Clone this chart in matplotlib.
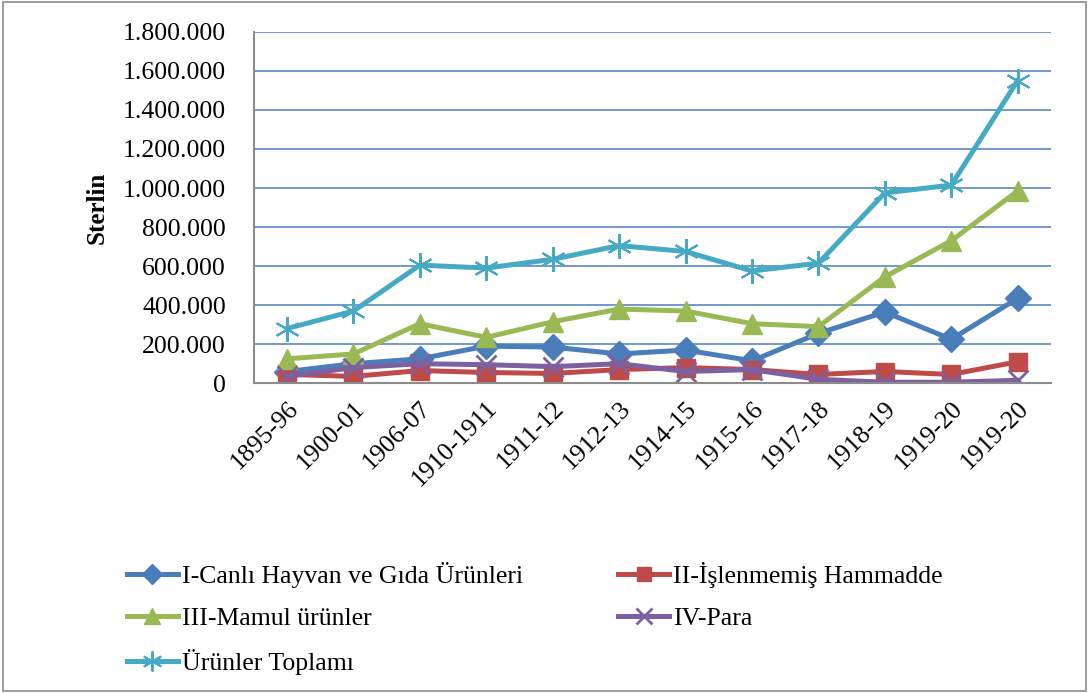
import matplotlib.pyplot as plt
from matplotlib.ticker import FuncFormatter
import matplotlib.patches as mpatches

plt.rcParams['font.family'] = ['Liberation Serif', 'DejaVu Serif']

years = ['1895-96', '1900-01', '1906-07', '1910-1911', '1911-12', '1912-13',
         '1914-15', '1915-16', '1917-18', '1918-19', '1919-20', '1919-20']

canli = [60000, 100000, 125000, 190000, 185000, 150000,
         170000, 115000, 255000, 365000, 225000, 435000]
hammadde = [45000, 35000, 65000, 55000, 50000, 70000,
            80000, 70000, 45000, 60000, 45000, 110000]
mamul = [125000, 150000, 305000, 235000, 315000, 380000,
         370000, 305000, 290000, 545000, 730000, 985000]
para = [35000, 80000, 100000, 95000, 85000, 100000,
        60000, 70000, 20000, 5000, 5000, 15000]
toplam = [280000, 370000, 605000, 590000, 635000, 705000,
          675000, 575000, 615000, 975000, 1015000, 1550000]

labels = ['I-Canlı Hayvan ve Gıda Ürünleri', 'II-İşlenmemiş Hammadde',
          'III-Mamul ürünler', 'IV-Para', 'Ürünler Toplamı']

fig = plt.figure(figsize=(10.89, 6.93), dpi=100)
fig.patches.append(mpatches.Rectangle((0.003, 0.003), 0.994, 0.994,
                                      transform=fig.transFigure, fill=False,
                                      edgecolor='#8c8c8c', linewidth=1.2))
ax = fig.add_axes([0.233, 0.447, 0.732, 0.507])

x = list(range(len(years)))
lw = 3.6
lines = {}
lines['I'], = ax.plot(x, canli, color='#4a7ebb', lw=lw, marker='D', ms=13)
lines['II'], = ax.plot(x, hammadde, color='#be4b48', lw=lw, marker='s', ms=13)
lines['III'], = ax.plot(x, mamul, color='#98b954', lw=lw, marker='^', ms=15)
lines['IV'], = ax.plot(x, para, color='#7d60a0', lw=lw, marker='x', ms=14, mew=2)
lines['T'], = ax.plot(x, toplam, color='#46aac5', lw=lw, marker=(6, 2, 0), ms=18, mew=1.5)

ax.set_xlim(-0.5, len(years) - 0.5)
ax.set_ylim(0, 1800000)
ax.set_yticks(range(0, 1800001, 200000))
ax.yaxis.set_major_formatter(FuncFormatter(lambda v, p: f'{int(v):,}'.replace(',', '.')))
ax.set_xticks(x)
ax.set_xticklabels(years, rotation=45, ha='right', rotation_mode='anchor')
ax.tick_params(axis='both', labelsize=18.5, length=0)
ax.tick_params(axis='y', pad=20)
ax.tick_params(axis='x', pad=10)
ax.grid(axis='y', color='#4a7ebb', lw=1.1)
ax.set_axisbelow(True)
for s in ['top', 'right']:
    ax.spines[s].set_visible(False)
for s in ['left', 'bottom']:
    ax.spines[s].set_color('#8c8c8c')
    ax.spines[s].set_linewidth(1.5)
ax.set_ylabel('Sterlin', fontsize=18, fontweight='bold', labelpad=10)

handles = [lines['I'], lines['III'], lines['T'], lines['II'], lines['IV']]
hl = [labels[0], labels[2], labels[4], labels[1], labels[3]]
fig.legend(handles, hl, ncol=2, loc='lower left', bbox_to_anchor=(0.095, -0.008),
           frameon=False, fontsize=18.5, handlelength=2.0, handletextpad=0.15,
           columnspacing=3.7, labelspacing=0.75, markerscale=0.8)

fig.savefig('out.png', dpi=100)
